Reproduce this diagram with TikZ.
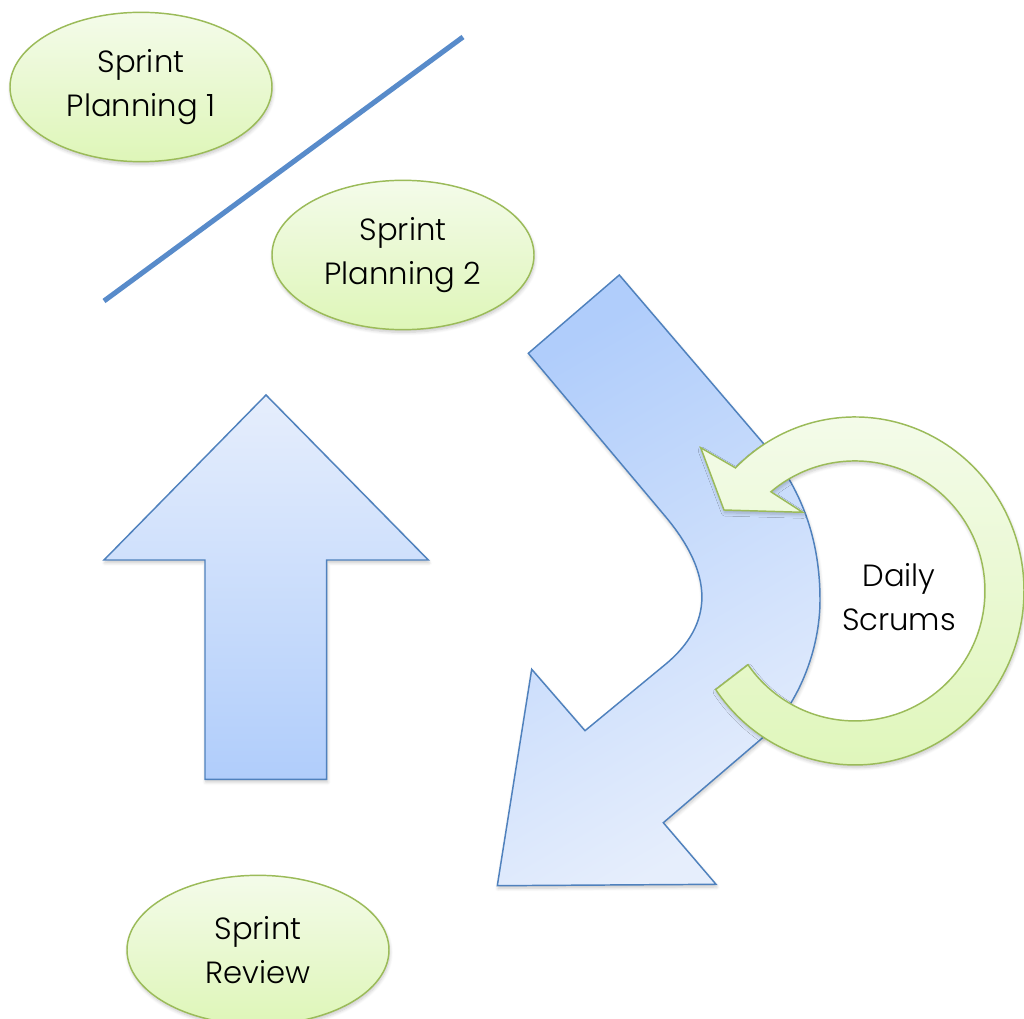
\documentclass[tikz,border=0pt]{standalone}
\usepackage{fontspec}
\setmainfont{Poppins Light}
\usetikzlibrary{shapes.geometric,shadows.blur}

\definecolor{blueline}{RGB}{79,129,189}
\definecolor{bluerule}{RGB}{88,139,202}
\definecolor{bluedeep}{RGB}{176,205,251}
\definecolor{bluepale}{RGB}{230,238,252}
\definecolor{greenline}{RGB}{155,187,89}
\definecolor{greenpale}{RGB}{244,251,234}
\definecolor{greendeep}{RGB}{222,246,184}

\tikzset{
  softshadow/.style={blur shadow={shadow xshift=0.6pt, shadow yshift=-2pt,
      shadow blur steps=6, shadow blur radius=2.5pt, shadow opacity=22}},
  phase/.style={ellipse, draw=greenline, line width=1.1pt,
      top color=greenpale, bottom color=greendeep,
      minimum width=196.5pt, minimum height=112pt, inner sep=0pt,
      align=center, font=\fontsize{23}{33.5}\selectfont, softshadow},
  blockarrow/.style={draw=blueline, line width=1.1pt, line join=miter, softshadow},
  cyclearrow/.style={draw=greenline, line width=1.1pt, line join=miter,
      top color=greenpale, bottom color=greendeep, softshadow},
  caption/.style={align=center, font=\fontsize{23}{33.5}\selectfont}
}

\begin{document}
\begin{tikzpicture}[x=0.75pt, y=-0.75pt]
\useasboundingbox (0,0) rectangle (1024,1019);

% planning phases and review
\node[phase] (plan1) at (141,87) {Sprint\\Planning 1};
\node[phase] (plan2) at (403,255) {Sprint\\Planning 2};
\node[phase] (review) at (258,950) {Sprint\\Review};

% divider between the two planning meetings
\coordinate (divtop) at (463,37);
\coordinate (divbot) at (104,301);
\draw[bluerule, line width=3.8pt] (divbot) -- (divtop);

% upward block arrow
\path[blockarrow, top color=bluepale, bottom color=bluedeep]
  (266,395) -- (428.3,560) -- (326.7,560) -- (326.7,779.3)
  -- (205,779.3) -- (205,560) -- (104,560) -- cycle;

% bent sprint arrow
\path[blockarrow, top color=bluedeep, bottom color=bluepale, shading angle=30]
  (528.3,353.3) -- (619.3,275) -- (763,443)
  .. controls (802,488) and (820,540) .. (820,600)
  .. controls (820,650) and (798,707.5) .. (760,740)
  -- (663.3,822.7) -- (716,884.3) -- (497.3,885.7) -- (531.7,669.3)
  -- (585,730.7) -- (665,664.7)
  .. controls (714.2,624.1) and (714.2,574.5) .. (665,516) -- cycle;

% daily cycle arrow
\path[cyclearrow]
  (715.7,689.5) arc[start angle=-214.5, end angle=-495, x radius=169, y radius=174]
  -- (700.7,447.7) -- (724,510) -- (802.7,512.3) -- (770.9,491.8)
  arc[start angle=-490.3, end angle=-214.6, radius=130] -- cycle;

\node[caption] (daily) at (899,597) {Daily\\Scrums};
\end{tikzpicture}
\end{document}
